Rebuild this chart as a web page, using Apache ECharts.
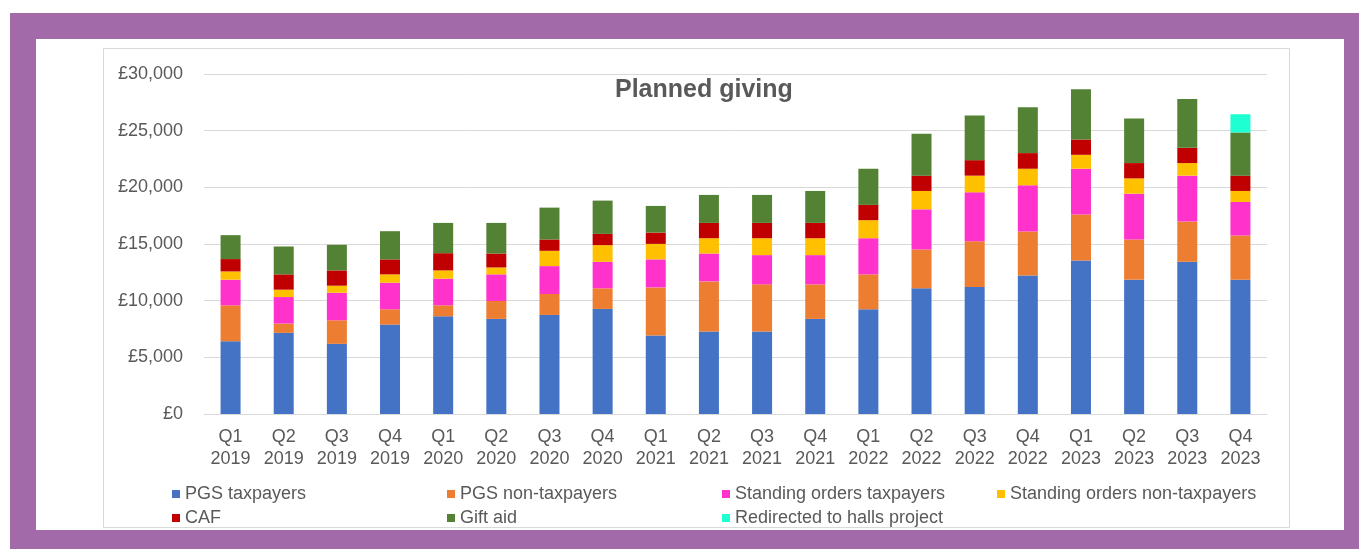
<!DOCTYPE html>
<html>
<head>
<meta charset="utf-8">
<script src="https://cdn.jsdelivr.net/npm/echarts@6/dist/echarts.min.js"></script>
<style>
html,body{margin:0;padding:0;background:#ffffff;}
#chart{width:1359px;height:549px;}
</style>
</head>
<body>
<div id="chart"></div>
<script>
const categories = ['Q1\n2019','Q2\n2019','Q3\n2019','Q4\n2019','Q1\n2020','Q2\n2020','Q3\n2020','Q4\n2020','Q1\n2021','Q2\n2021','Q3\n2021','Q4\n2021','Q1\n2022','Q2\n2022','Q3\n2022','Q4\n2022','Q1\n2023','Q2\n2023','Q3\n2023','Q4\n2023'];
const seriesNames = ['PGS taxpayers','PGS non-taxpayers','Standing orders taxpayers','Standing orders non-taxpayers','CAF','Gift aid','Redirected to halls project'];
const pgsTaxpayers = [6420,7160,6190,7890,8620,8390,8740,9270,6920,7270,7270,8390,9240,11090,11200,12230,13550,11850,13430,11850];
const pgsNonTaxpayers = [3170,820,2080,1350,970,1580,1850,1820,4250,4430,4170,3050,3080,3430,4050,3870,4050,3550,3550,3900];
const soTaxpayers = [2260,2340,2430,2340,2350,2350,2460,2340,2470,2460,2580,2580,3190,3540,4310,4080,4040,4040,4050,2960];
const soNonTaxpayers = [730,650,620,740,730,610,1350,1470,1370,1350,1490,1490,1590,1620,1470,1460,1230,1350,1110,970];
const caf = [1090,1350,1350,1320,1520,1230,1000,990,1000,1350,1350,1350,1350,1350,1370,1380,1350,1350,1350,1350];
const giftAid = [2110,2460,2260,2490,2670,2700,2810,2940,2350,2470,2470,2820,3190,3690,3930,4050,4430,3930,4310,3810];
const hallsProject = [null,null,null,null,null,null,null,null,null,null,null,null,null,null,null,null,null,null,null,1610];
const yTicks = [0,5000,10000,15000,20000,25000,30000];

const seriesData = [pgsTaxpayers,pgsNonTaxpayers,soTaxpayers,soNonTaxpayers,caf,giftAid,hallsProject];
const colors = ['#4472C4','#ED7D31','#FF33CC','#FFC000','#C00000','#548235','#1EFFD2'];
const textColor = '#595959';
const fontFam = '"Liberation Sans", Arial, sans-serif';

const chart = echarts.init(document.getElementById('chart'), null, {renderer:'canvas'});
const option = {
  animation:false,
  color: colors,
  graphic:[
    {type:'rect', z:-10, shape:{x:10,y:13,width:1349,height:536}, style:{fill:'#A36AAA'}},
    {type:'rect', z:-9, shape:{x:36,y:39,width:1308,height:491}, style:{fill:'#ffffff'}},
    {type:'rect', z:-8, shape:{x:103.5,y:48.5,width:1186,height:479}, style:{fill:'#ffffff',stroke:'#d9d9d9',lineWidth:1}}
  ],
  title:{
    text:'Planned giving',
    left:610, top:73,
    textStyle:{fontFamily:fontFam,fontSize:25,fontWeight:'bold',color:textColor}
  },
  legend:{
    data: seriesNames,
    left:167, top:477,
    width:1120,
    itemWidth:8, itemHeight:8, itemGap:0,
    icon:'rect',
    orient:'horizontal',
    textStyle:{fontFamily:fontFam,fontSize:18,color:textColor,width:262,lineHeight:24,padding:[0,0,0,0]}
  },
  grid:{left:204,right:92,top:74,bottom:135},
  xAxis:{
    type:'category',
    data:categories,
    axisLine:{lineStyle:{color:'#d9d9d9'}},
    axisTick:{show:false},
    axisLabel:{fontFamily:fontFam,fontSize:18,color:textColor,lineHeight:22,margin:12,interval:0}
  },
  yAxis:{
    type:'value',
    min:yTicks[0], max:yTicks[yTicks.length-1], interval:5000,
    axisLine:{show:false},
    axisTick:{show:false},
    splitLine:{lineStyle:{color:'#d9d9d9'}},
    axisLabel:{fontFamily:fontFam,fontSize:18,color:textColor,margin:21,
      formatter:function(v){return '£'+v.toLocaleString('en-GB');}}
  },
  series: seriesNames.map(function(n,i){
    return {name:n,type:'bar',stack:'total',barWidth:20,data:seriesData[i],itemStyle:{color:colors[i]}};
  })
};
chart.setOption(option);
</script>
</body>
</html>
